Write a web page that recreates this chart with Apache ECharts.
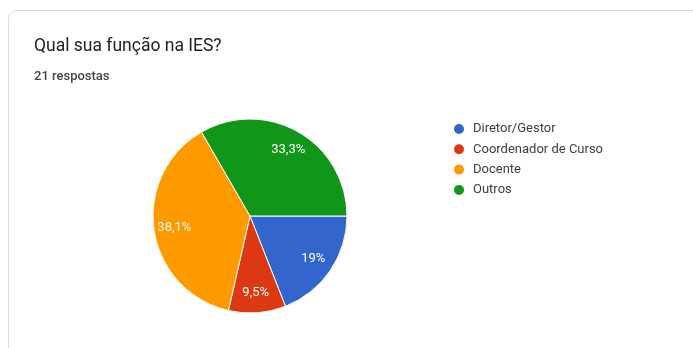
<!DOCTYPE html>
<html>
<head>
<meta charset="utf-8">
<script src="https://cdn.jsdelivr.net/npm/echarts@6/dist/echarts.min.js"></script>
<style>
html,body{margin:0;padding:0;background:#fff;}
#c{width:693px;height:348px;}
</style>
</head>
<body>
<div id="c"></div>
<script>
const categories = ['Diretor/Gestor', 'Coordenador de Curso', 'Docente', 'Outros'];
const counts = [4, 2, 8, 7];
const colors = ['#3366cc', '#dc3912', '#ff9900', '#109618'];
const titleText = 'Qual sua função na IES?';
const subtitleText = '21 respostas';

const total = counts.reduce((a, b) => a + b, 0);
function pct(v) {
  return (v / total * 100).toFixed(1).replace(/\.0$/, '').replace('.', ',') + '%';
}
const pieData = categories.map((n, i) => ({ name: n, value: counts[i], itemStyle: { color: colors[i] } }));
const labelData = categories.map((n, i) => ({ name: n, value: counts[i] }));

const chart = echarts.init(document.getElementById('c'));
chart.setOption({
  animation: false,
  backgroundColor: '#ffffff',
  graphic: [{
    type: 'rect',
    shape: { x: 8.5, y: 10.5, width: 720, height: 420, r: 8 },
    style: { fill: '#ffffff', stroke: '#dadce0', lineWidth: 1 },
    z: -10
  }],
  title: [{
    text: titleText,
    left: 34, top: 38, padding: 0,
    textStyle: { fontFamily: 'Roboto, Arial, sans-serif', fontSize: 17.5, fontWeight: 'normal', color: '#202124' }
  }, {
    text: subtitleText,
    left: 34, top: 70, padding: 0,
    textStyle: { fontFamily: 'Roboto, Arial, sans-serif', fontSize: 13, fontWeight: 500, color: '#444' }
  }],
  legend: {
    orient: 'vertical',
    left: 452, top: 122,
    padding: 0,
    itemWidth: 12, itemHeight: 12, itemGap: 6.3,
    icon: 'circle',
    data: categories,
    textStyle: { fontFamily: 'Roboto, Arial, sans-serif', fontSize: 13, color: '#3c4043', padding: [0, 0, 0, 3] },
    selectedMode: false
  },
  series: [{
    type: 'pie',
    center: [250, 216],
    radius: 97,
    startAngle: 0,
    clockwise: true,
    data: pieData,
    label: { show: false },
    labelLine: { show: false },
    itemStyle: { borderColor: '#ffffff', borderWidth: 1 },
    emphasis: { disabled: true }
  }, {
    type: 'pie',
    center: [250, 216],
    radius: [50, 97],
    startAngle: 0,
    clockwise: true,
    silent: true,
    data: labelData,
    itemStyle: { color: 'rgba(0,0,0,0)' },
    label: {
      show: true,
      position: 'inside',
      formatter: p => pct(p.value),
      color: '#ffffff',
      fontFamily: 'Roboto, Arial, sans-serif',
      fontSize: 13
    },
    labelLine: { show: false },
    emphasis: { disabled: true },
    tooltip: { show: false }
  }]
});
</script>
</body>
</html>
